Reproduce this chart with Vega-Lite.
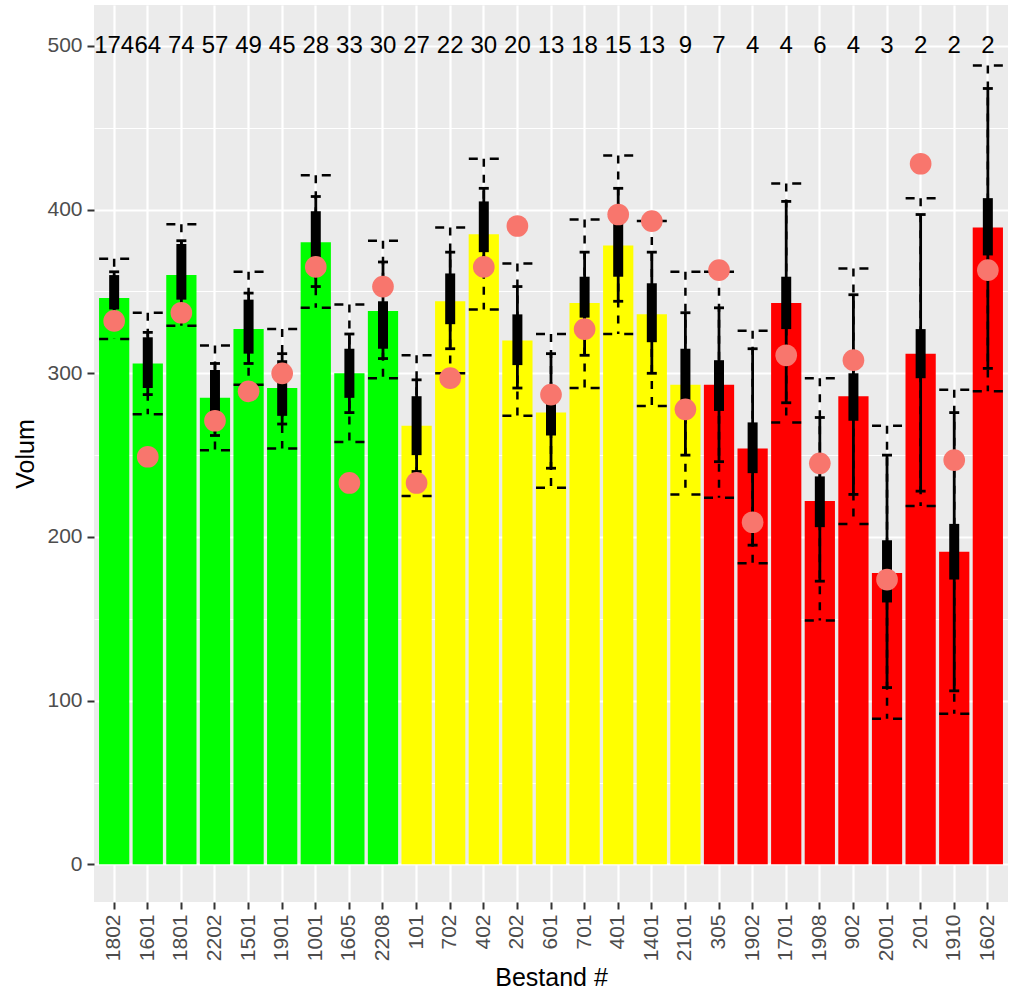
{
  "$schema": "https://vega.github.io/schema/vega-lite/v6.json",
  "width": 914,
  "height": 897,
  "autosize": "none",
  "padding": {"left": 94, "top": 5, "right": 3, "bottom": 97},
  "background": "white",
  "config": {
    "view": {"fill": "#EBEBEB", "stroke": null},
    "font": "Liberation Sans",
    "axis": {
      "domain": false,
      "grid": true,
      "gridColor": "white",
      "labelColor": "#4D4D4D",
      "labelFont": "Liberation Sans",
      "tickColor": "#333333",
      "tickSize": 7,
      "tickWidth": 2,
      "titleFont": "Liberation Sans",
      "titleFontWeight": "normal",
      "titleColor": "black"
    }
  },
  "data": {
    "values": [
      {"id": "1802", "grp": "g", "n": 174, "mean": 346, "olo": 321, "ohi": 370, "tlo": 331, "thi": 362, "klo": 339, "khi": 360, "pt": 332},
      {"id": "1601", "grp": "g", "n": 64, "mean": 306, "olo": 275, "ohi": 337, "tlo": 287, "thi": 325, "klo": 291, "khi": 322, "pt": 249},
      {"id": "1801", "grp": "g", "n": 74, "mean": 360, "olo": 329, "ohi": 391, "tlo": 337, "thi": 381, "klo": 345, "khi": 379, "pt": 337},
      {"id": "2202", "grp": "g", "n": 57, "mean": 285, "olo": 253, "ohi": 317, "tlo": 262, "thi": 306, "klo": 276, "khi": 302, "pt": 271},
      {"id": "1501", "grp": "g", "n": 49, "mean": 327, "olo": 293, "ohi": 362, "tlo": 306, "thi": 349, "klo": 312, "khi": 345, "pt": 289},
      {"id": "1901", "grp": "g", "n": 45, "mean": 291, "olo": 254, "ohi": 327, "tlo": 269, "thi": 312, "klo": 274, "khi": 308, "pt": 300},
      {"id": "1001", "grp": "g", "n": 28, "mean": 380, "olo": 340, "ohi": 421, "tlo": 353, "thi": 408, "klo": 370, "khi": 399, "pt": 365},
      {"id": "1605", "grp": "g", "n": 33, "mean": 300, "olo": 258, "ohi": 342, "tlo": 276, "thi": 324, "klo": 285, "khi": 315, "pt": 233},
      {"id": "2208", "grp": "g", "n": 30, "mean": 338, "olo": 297, "ohi": 381, "tlo": 309, "thi": 368, "klo": 315, "khi": 344, "pt": 353},
      {"id": "101", "grp": "y", "n": 27, "mean": 268, "olo": 225, "ohi": 311, "tlo": 240, "thi": 296, "klo": 250, "khi": 286, "pt": 233},
      {"id": "702", "grp": "y", "n": 22, "mean": 344, "olo": 300, "ohi": 389, "tlo": 315, "thi": 374, "klo": 330, "khi": 361, "pt": 297},
      {"id": "402", "grp": "y", "n": 30, "mean": 385, "olo": 339, "ohi": 431, "tlo": 364, "thi": 413, "klo": 374, "khi": 405, "pt": 365},
      {"id": "202", "grp": "y", "n": 20, "mean": 320, "olo": 274, "ohi": 367, "tlo": 291, "thi": 353, "klo": 305, "khi": 336, "pt": 390},
      {"id": "601", "grp": "y", "n": 13, "mean": 276, "olo": 230, "ohi": 324, "tlo": 242, "thi": 312, "klo": 262, "khi": 285, "pt": 287},
      {"id": "701", "grp": "y", "n": 18, "mean": 343, "olo": 291, "ohi": 394, "tlo": 311, "thi": 374, "klo": 334, "khi": 359, "pt": 327},
      {"id": "401", "grp": "y", "n": 15, "mean": 378, "olo": 324, "ohi": 433, "tlo": 344, "thi": 413, "klo": 359, "khi": 395, "pt": 397},
      {"id": "1401", "grp": "y", "n": 13, "mean": 336, "olo": 280, "ohi": 393, "tlo": 300, "thi": 374, "klo": 319, "khi": 355, "pt": 393},
      {"id": "2101", "grp": "y", "n": 9, "mean": 293, "olo": 226, "ohi": 362, "tlo": 250, "thi": 337, "klo": 282, "khi": 315, "pt": 278},
      {"id": "305", "grp": "r", "n": 7, "mean": 293, "olo": 224, "ohi": 362, "tlo": 246, "thi": 340, "klo": 277, "khi": 308, "pt": 363},
      {"id": "1902", "grp": "r", "n": 4, "mean": 254, "olo": 184, "ohi": 326, "tlo": 195, "thi": 315, "klo": 239, "khi": 270, "pt": 209},
      {"id": "1701", "grp": "r", "n": 4, "mean": 343, "olo": 270, "ohi": 416, "tlo": 282, "thi": 405, "klo": 327, "khi": 359, "pt": 311},
      {"id": "1908", "grp": "r", "n": 6, "mean": 222, "olo": 149, "ohi": 297, "tlo": 173, "thi": 273, "klo": 206, "khi": 237, "pt": 245},
      {"id": "902", "grp": "r", "n": 4, "mean": 286, "olo": 208, "ohi": 364, "tlo": 226, "thi": 348, "klo": 271, "khi": 300, "pt": 308},
      {"id": "2001", "grp": "r", "n": 3, "mean": 178, "olo": 89, "ohi": 268, "tlo": 108, "thi": 250, "klo": 160, "khi": 198, "pt": 174},
      {"id": "201", "grp": "r", "n": 2, "mean": 312, "olo": 219, "ohi": 407, "tlo": 228, "thi": 397, "klo": 297, "khi": 327, "pt": 428},
      {"id": "1910", "grp": "r", "n": 2, "mean": 191, "olo": 92, "ohi": 290, "tlo": 106, "thi": 276, "klo": 174, "khi": 208, "pt": 247},
      {"id": "1602", "grp": "r", "n": 2, "mean": 389, "olo": 289, "ohi": 488, "tlo": 303, "thi": 474, "klo": 372, "khi": 407, "pt": 363}
    ]
  },
  "encoding": {
    "x": {
      "field": "id",
      "type": "nominal",
      "sort": null,
      "scale": {"paddingInner": 0.1, "paddingOuter": 0.15},
      "axis": {
        "title": "Bestand #",
        "titleFontSize": 25,
        "labelFontSize": 21,
        "labelAngle": 270,
        "labelPadding": 5,
        "bandPosition": 0.5,
        "gridWidth": 2.2,
        "titlePadding": 5
      }
    }
  },
  "layer": [
    {
      "mark": {"type": "bar"},
      "encoding": {
        "y": {
          "field": "mean",
          "type": "quantitative",
          "scale": {"domain": [-23, 525], "nice": false, "zero": false},
          "axis": {
            "title": "Volum",
            "titleFontSize": 25,
            "labelFontSize": 21,
            "values": [0, 50, 100, 150, 200, 250, 300, 350, 400, 450, 500],
            "labelExpr": "datum.value % 100 === 0 ? datum.label : ''",
            "gridWidth": {"condition": {"test": "datum.value % 100 === 0", "value": 2.2}, "value": 1.1},
            "tickOpacity": {"condition": {"test": "datum.value % 100 === 0", "value": 1}, "value": 0},
            "labelPadding": 5,
            "titlePadding": 8
          }
        },
        "y2": {"datum": 0},
        "color": {
          "field": "grp",
          "type": "nominal",
          "scale": {"domain": ["g", "y", "r"], "range": ["#00FF00", "#FFFF00", "#FF0000"]},
          "legend": null
        }
      }
    },
    {
      "mark": {"type": "rule", "color": "black", "strokeWidth": 2.5, "strokeDash": [8, 8]},
      "encoding": {
        "y": {"field": "ohi", "type": "quantitative"},
        "y2": {"field": "olo"}
      }
    },
    {
      "mark": {"type": "rule", "color": "black", "strokeWidth": 2.5, "strokeDash": [9, 12], "xOffset": -15, "x2Offset": 15},
      "encoding": {
        "x2": {"field": "id"},
        "y": {"field": "ohi", "type": "quantitative"}
      }
    },
    {
      "mark": {"type": "rule", "color": "black", "strokeWidth": 2.5, "strokeDash": [9, 12], "xOffset": -15, "x2Offset": 15},
      "encoding": {
        "x2": {"field": "id"},
        "y": {"field": "olo", "type": "quantitative"}
      }
    },
    {
      "mark": {"type": "rule", "color": "black", "strokeWidth": 2.8},
      "encoding": {
        "y": {"field": "thi", "type": "quantitative"},
        "y2": {"field": "tlo"}
      }
    },
    {
      "mark": {"type": "tick", "color": "black", "size": 10, "thickness": 2.8, "opacity": 1},
      "encoding": {
        "y": {"field": "thi", "type": "quantitative"}
      }
    },
    {
      "mark": {"type": "tick", "color": "black", "size": 10, "thickness": 2.8, "opacity": 1},
      "encoding": {
        "y": {"field": "tlo", "type": "quantitative"}
      }
    },
    {
      "mark": {"type": "rule", "color": "black", "strokeWidth": 10},
      "encoding": {
        "y": {"field": "khi", "type": "quantitative"},
        "y2": {"field": "klo"}
      }
    },
    {
      "mark": {"type": "point", "filled": true, "shape": "circle", "size": 470, "color": "#F8766D", "opacity": 1},
      "encoding": {
        "y": {"field": "pt", "type": "quantitative"}
      }
    },
    {
      "mark": {"type": "text", "fontSize": 24, "color": "black", "font": "Liberation Sans", "baseline": "middle", "align": "center"},
      "encoding": {
        "y": {"datum": 500},
        "text": {"field": "n", "type": "quantitative"}
      }
    }
  ]
}
